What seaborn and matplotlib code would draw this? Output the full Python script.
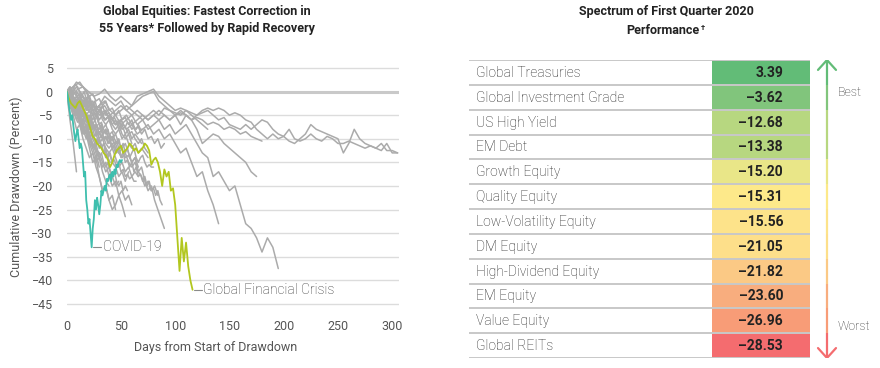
import numpy as np
import pandas as pd
import matplotlib.pyplot as plt
from matplotlib.colors import ListedColormap
import seaborn as sns

# ---- left panel: drawdown paths (percent) ----
# short historical drawdowns, one value every 3 trading days
gray_a = [0, -6, -11, -17]
gray_b = [0, -2, -4, -3, -6, -8, -7, -10, -12, -11, -14, -16, -15, -18, -20, -19, -22, -21, -23, -22, -24]
gray_c = [0, -3, -5, -8, -7, -10, -12, -14, -13, -16, -18, -21, -20, -23, -25, -24, -22, -24, -26.5]
gray_d = [0, -1, -3, -5, -4, -7, -9, -12, -15, -14, -18, -21, -20, -23, -22, -25]
gray_e = [0, 1, -1, -2, -1, -3, -5, -4, -6, -5, -7, -8, -7, -9, -10, -9, -11, -12, -11, -13, -15, -14,
          -17, -16, -19, -21, -20, -23, -25, -27, -29]
gray_f = [0, -2, -1, -3, -5, -4, -6, -8, -7, -9, -11, -10, -12, -13, -12, -14, -16, -15, -17, -16, -18, -17, -18]
gray_g = [0, -2, -5, -4, -7, -9, -8, -11, -13, -15, -14, -17, -19, -20]
gray_h = [0, -1, -3, -2, -5, -7, -6, -9, -11, -13, -16]
gray_i = [0, 1, 0, -1, -2, -1, -3, -2, -4, -5, -4, -6, -7, -6, -8, -9, -8, -10, -9, -11, -12, -11, -13, -12, -13, -14]
gray_j = [0, -1, -2, -4, -3, -5, -6, -5, -7, -8, -10, -9, -11, -12, -11, -13, -12, -14, -13, -15, -16, -15,
          -17, -18, -20, -19, -21, -20, -22]
gray_k = [0, 0.5, 1, 1.5, 2, 1, 0, -2, -4, -5, -7, -9, -8, -10, -12, -11, -13, -14]
gray_l = [0, -1, 0, 1, 0, -1, -2, -1, -3, -4, -3, -5, -6, -5, -7, -8, -7, -9, -10, -9, -11]
gray_m = [0, -1, -2, -1, -3, -2, -4, -3, -5, -4, -6, -5, -4, -6, -7, -6, -8, -7, -9, -8, -10, -9, -10, -11]
gray_n = [0, -2, -4, -6, -5, -8, -10, -9, -12, -14, -13, -15, -17, -16, -18, -20, -19]
gray_o = [0, -3, -2, -4, -6, -5, -8, -7, -9, -11, -10, -12, -14, -13, -15, -16, -18, -17, -19, -17]
gray_x = [0, 0.5, 1, 2, 1.5, 1, 0, -1, -0.5, -2, -1.5, -3, -2, -4, -3.5, -5, -4, -6, -5.5, -7, -6, -8,
          -7.5, -9, -8, -10, -9.5, -11, -10, -12, -11]
gray_y = [0, -1, -0.5, 0, -1, -2, -1.5, -3, -2, -3.5, -4, -3, -5, -4.5, -6, -7, -6, -8, -7.5, -9, -8.5,
          -10, -11, -10, -12, -13]
gray_z = [0, -2, -4, -3.5, -5, -6, -5, -7, -8, -7, -9, -10, -9.5, -11, -10, -12, -13, -12, -14, -13.5,
          -15, -14, -16]

# more short drawdowns, one value every 2 trading days
gray_p = [0, -1, -2.5, -1.5, -3, -4, -3, -5, -4.5, -6, -7, -6, -8, -9.5, -8.5, -10, -12, -11, -13, -14, -15]
gray_q = [0, -0.5, 0.5, 1, 0, -1, -0.5, -2, -3, -2, -4, -3.5, -5, -6, -5, -7, -6.5, -8, -9, -8, -10, -9.5,
          -11, -10.5, -12, -12]
gray_r = [0, -2, -3, -2.5, -4, -5.5, -5, -7, -6, -8, -9, -8.5, -10, -11, -10, -12, -11.5, -13, -12, -14,
          -13, -15, -14.5, -16, -15, -17, -16.5, -18, -17.5, -18.5, -18, -19, -19]
gray_s = [0, -1.5, -1, -2.5, -3, -2, -4, -5, -4, -6, -5.5, -7, -8, -7, -9, -8.5, -9.5, -10, -10]
gray_t = [0, -1, -2, -1, -3, -2.5, -4, -3, -5, -4.5, -6, -5, -7, -6, -7.5, -8, -7, -9, -8, -10, -9, -8.5,
          -10, -11, -10, -12, -11, -13, -12, -14, -13, -12, -14, -15, -14, -13.5, -15, -16, -15.5, -16, -16]
gray_u = [0, -2, -3.5, -3, -5, -6.5, -6, -8, -9, -8.5, -10, -11.5, -11, -12, -12.5, -13]
gray_v = [0, 0.5, -0.5, 0.5, 1.5, 1, 0, -1, 0, -1.5, -1, -2, -3, -2, -3.5, -3, -4, -5, -4, -5.5, -5, -6,
          -5.5, -6.5, -7, -6, -7, -7.5, -6.5, -7, -8, -7.5, -8, -7, -8, -8]
gray_w = [0, -1, -2, -4, -3, -5, -7, -6, -8, -9, -8, -10, -12, -11, -13, -14, -13, -15, -16, -15, -17, -18,
          -17, -19, -20, -19, -21, -20, -21]
gray_aa = [0, -1, -2, -1.5, -3, -2.5, -4, -3, -5, -6, -5, -7, -6.5, -8, -7, -9, -8, -10, -9.5, -11, -10,
           -12, -11.5, -13, -12, -14, -13, -15, -14.5, -16, -15, -17, -16, -18, -17.5, -19, -18, -20, -19,
           -21, -20.5, -22, -21, -23, -24]

# longer drawdowns, one value every 5 trading days
long_a = [0, -2, -1, -3, -2, -4, -3, -1, -2, -3, -2, -4, -3, -2, -1, -0.5, 0, -2, -3, -4, -4.5, -5, -4,
          -4.5, -5, -4, -3.5, -4, -3.5, -4, -5, -4.5, -5, -6, -6.5, -8, -9, -10, -9, -10, -9.5, -10.5,
          -11, -10, -9, -7, -8, -8.5, -9, -9.5, -10, -13, -11, -8, -10, -11, -11.5, -12, -11, -12.5, -12.5, -13]
long_b = [0, -1, -3, -2, -4, -5, -4, -6, -5, -7, -6, -5, -7, -6, -5, -6, -5, -4, -5, -6, -5, -4, -5,
          -6, -5, -4.5, -4, -5, -6, -5.5, -7, -7.5, -8, -7, -8, -7, -6, -6.5, -8, -9, -9.5, -8, -10,
          -10.5, -10, -9, -10, -10.5, -9.5, -10, -11, -11, -10.5, -11, -11.5, -12, -11.5, -12, -12.5, -11, -13, -13]
long_c = [0, -1, -2, -1, -3, -4, -3, -2, -4, -5, -4, -3, -4, -5, -6, -5, -4, -5, -3.5, -4, -5, -4.5,
          -5, -6, -5.5, -6, -7, -6.5, -7, -8, -7.5, -8, -9, -8.5, -9.5, -10, -10.5]
long_d = [0, -1, -2, -3, -2, -3, -4, -3, -5, -4, -3, -4, -5, -4, -5, -6, -5, -6, -5, -6, -5, -7, -5,
          -6, -8, -11, -10, -9, -9.5, -11, -12, -13, -14, -15, -17, -18]
long_e = [0, -1, -3, -2, -4, -3, -5, -4, -6, -5, -7, -6, -5, -7, -6, -8, -7, -6, -8, -7, -9, -8, -7,
          -9, -11, -13, -14, -18, -17, -19, -21, -20, -24, -28, -29, -31, -34, -31, -33, -37.5]
long_f = [0, -1, -3, -2, -4, -5, -4, -6, -5, -7, -6, -8, -7, -9, -8, -7, -9, -8, -10, -9, -11, -13,
          -12, -15, -18, -17, -21, -24, -28]
long_g = [0, -1, 0.5, 1, 0, -1, -0.5, 0.5, -1, -2, -1, -2, -3, -1, -0.5, 0, 0.5, -1, -2, -3, -4,
          -3.5, -4, -5, -6, -7, -8]

# Global Financial Crisis, every 2 days
gfc = [0, -1.5, -2.5, -3, -3.5, -2.5, -2, -3, -4, -5, -6.5, -8, -9.5, -10, -11, -11.5, -12, -13, -13.5,
       -14.5, -16, -15, -13.5, -12.5, -12, -11.5, -13, -12.5, -12, -11, -11.5, -12.5, -12, -13, -12.5,
       -12, -11, -11.5, -12.5, -15.5, -14.5, -14, -15, -17, -20, -16.5, -18, -17, -21, -20.5, -24,
       -31, -38, -31, -36, -32, -37, -40, -42]

# COVID-19, daily
covid = [0, -1, -3, -4.5, -6, -5, -7, -9, -10.5, -9, -8, -10, -12, -11, -12, -15, -18, -17, -23, -25,
         -28, -27, -30, -33, -29, -27, -23, -25, -22.5, -24, -26, -24, -21, -22, -21, -20, -21, -18.5,
         -19, -18, -17.5, -19, -17, -18, -16.5, -17.5, -15.5, -16, -15, -14.5, -15, -14.5]

y_ticks = [5, 0, -5, -10, -15, -20, -25, -30, -35, -40, -45]
x_ticks = [0, 50, 100, 150, 200, 250, 300]

# ---- right panel: Q1 2020 returns ----
assets = ["Global Treasuries", "Global Investment Grade", "US High Yield", "EM Debt", "Growth Equity",
          "Quality Equity", "Low-Volatility Equity", "DM Equity", "High-Dividend Equity", "EM Equity",
          "Value Equity", "Global REITs"]
returns = [3.39, -3.62, -12.68, -13.38, -15.20, -15.31, -15.56, -21.05, -21.82, -23.60, -26.96, -28.53]
row_colors = ["#62bc77", "#81c57c", "#b7d780", "#b7d780", "#e9e688", "#fde98a", "#fde38a", "#fddf8a",
              "#fbc985", "#f8ad7e", "#f89c77", "#f46c6f"]


def to_long(name, values, step):
    return pd.DataFrame({"series": name, "day": np.arange(len(values)) * step, "value": values})


every3 = [gray_a, gray_b, gray_c, gray_d, gray_e, gray_f, gray_g, gray_h, gray_i, gray_j, gray_k,
          gray_l, gray_m, gray_n, gray_o, gray_x, gray_y, gray_z]
every2 = [gray_p, gray_q, gray_r, gray_s, gray_t, gray_u, gray_v, gray_w, gray_aa]
every5 = [long_a, long_b, long_c, long_d, long_e, long_f, long_g]
parts = []
for step, group in [(3, every3), (2, every2), (5, every5)]:
    for k, vals in enumerate(group):
        parts.append(to_long(f"s{step}_{k}", vals, step))
gray_df = pd.concat(parts, ignore_index=True)
gfc_df = to_long("gfc", gfc, 2)
covid_df = to_long("covid", covid, 1)

sns.set_theme(style="white")
plt.rcParams["font.family"] = ["Roboto", "DejaVu Sans"]

W, H = 880, 368
fig = plt.figure(figsize=(W / 100, H / 100), dpi=100)

ax = fig.add_axes([66.7 / W, (H - 306.3) / H, 332 / W, 240.7 / H])
for t in y_ticks:
    ax.axhline(t, color="#c9c9c9" if t == 0 else "#dcdcdc", lw=2.2 if t == 0 else 1.0, zorder=0)

sns.lineplot(data=gray_df, x="day", y="value", units="series", estimator=None,
             color="#ababab", lw=1.1, ax=ax, legend=False)
sns.lineplot(data=gfc_df, x="day", y="value", color="#b2c71f", lw=1.3, ax=ax, legend=False)
sns.lineplot(data=covid_df, x="day", y="value", color="#3fbfae", lw=1.3, ax=ax, legend=False)

# leader lines and labels
ax.plot([24.5, 32], [-33, -33], color="#8a8a8a", lw=0.8)
ax.text(33, -33, "COVID-19", fontsize=10, fontweight="light", color="#333333", va="center", ha="left")
ax.plot([117, 125], [-42, -42], color="#8a8a8a", lw=0.8)
ax.text(126, -42, "Global Financial Crisis", fontsize=10, fontweight="light", color="#333333",
        va="center", ha="left")

ax.set_xlim(0, 306)
ax.set_ylim(-45.5, 5.5)
ax.set_yticks(y_ticks)
ax.set_xticks(x_ticks)
ax.tick_params(length=0, labelsize=9, labelcolor="#555555", pad=10)
for s in ax.spines.values():
    s.set_visible(False)
ax.set_xlabel("")
ax.set_ylabel("")
fig.text(16 / W, 1 - 187 / H, "Cumulative Drawdown (Percent)", rotation=90, fontsize=9,
         color="#555555", ha="center", va="center")
fig.text(216 / W, 1 - 348 / H, "Days from Start of Drawdown", fontsize=9,
         color="#555555", ha="center", va="center")
fig.text(207 / W, 1 - 20 / H, "Global Equities: Fastest Correction in\n55 Years* Followed by Rapid Recovery",
         fontsize=9, fontweight="bold", color="#222222", ha="center", va="center", linespacing=1.35)

# ---- right panel ----
tab_left, tab_bottom, tab_h = 469, H - 358, 298
ax_heat = fig.add_axes([712 / W, tab_bottom / H, 98 / W, tab_h / H])
sns.heatmap(pd.DataFrame({"rank": np.arange(len(returns))}, index=assets),
            cmap=ListedColormap(row_colors), vmin=-0.5, vmax=len(returns) - 0.5,
            cbar=False, ax=ax_heat, xticklabels=False, yticklabels=False)
ax_heat.set_xlabel("")
ax_heat.set_ylabel("")

ax_tab = fig.add_axes([tab_left / W, tab_bottom / H, (W - tab_left) / W, tab_h / H])
ax_tab.patch.set_alpha(0)
n = len(assets)
ax_tab.set_xlim(0, W - tab_left)
ax_tab.set_ylim(n, 0)
ax_tab.axis("off")
ax_tab.hlines(np.arange(n + 1), 0, 341, color="#c8c8c8", lw=1.4)
for i, (name, val) in enumerate(zip(assets, returns)):
    ax_tab.text(7, i + 0.52, name, fontsize=10, fontweight="light", color="#222222", va="center", ha="left")
    ax_tab.text(314, i + 0.52, f"{val:.2f}".replace("-", "\u2013"), fontsize=10, fontweight="bold",
                color="#222222", va="center", ha="right")

# best/worst arrow
ax_x = 358
for i, c in enumerate(row_colors):
    ax_tab.plot([ax_x, ax_x], [i, i + 1], color=c, lw=1.6, solid_capstyle="butt")
ax_tab.plot([ax_x - 9, ax_x, ax_x + 9], [0.4, 0, 0.4], color=row_colors[0], lw=1.6)
ax_tab.plot([ax_x - 9, ax_x, ax_x + 9], [n - 0.4, n, n - 0.4], color=row_colors[-1], lw=1.6)
ax_tab.text(369, 1.29, "Best", fontsize=9, fontweight="light", color="#333333", va="center", ha="left")
ax_tab.text(369, 10.75, "Worst", fontsize=9, fontweight="light", color="#333333", va="center", ha="left")

fig.text(666 / W, 1 - 12 / H, "Spectrum of First Quarter 2020", fontsize=9,
         fontweight="bold", color="#222222", ha="center", va="center")
perf = fig.text(663 / W, 1 - 30 / H, "Performance", fontsize=9,
                fontweight="bold", color="#222222", ha="center", va="center")
ax_tab.annotate("\u2020", xy=(1, 1), xycoords=perf, xytext=(0.8, 0), textcoords="offset points",
                fontsize=5.5, fontweight="bold", color="#222222", ha="left", va="top",
                annotation_clip=False)

fig.savefig("out.png", dpi=100)
